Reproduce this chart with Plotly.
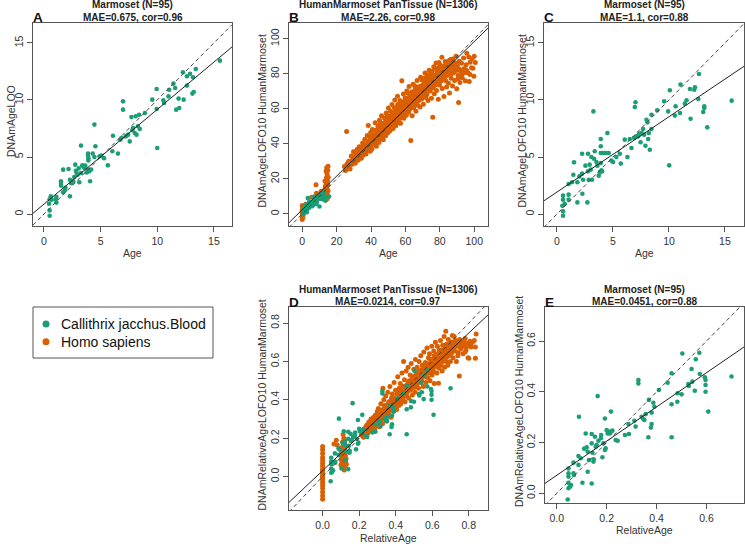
import plotly.graph_objects as go

W, H = 745, 544
GREEN = "#1B9E77"
ORANGE = "#D95F02"
FONT = "Liberation Sans, Arial, sans-serif"

# ---------------- data ----------------
# Panel A: Marmoset Age vs DNAmAgeLOO
marm_A = [
    (0.5, -0.15), (0.5, 0.32), (0.45, 0.9), (0.5, 1.3), (0.6, 1.55), (0.68, 1.26), (1.04, 1.3), (1.1, 1.0),
    (1.1, 1.5), (1.5, 2.87), (1.5, 2.66), (1.51, 2.49), (1.69, 1.9), (1.84, 2.08), (1.69, 3.89), (2.17, 3.95),
    (2.29, 1.55), (2.29, 3.0), (2.58, 2.87), (2.67, 3.25), (2.76, 4.33), (2.82, 3.8), (2.88, 3.6), (2.97, 3.45),
    (3.06, 4.0), (3.12, 2.78), (3.27, 6.0), (3.36, 4.24), (3.47, 4.24), (3.65, 4.24), (3.77, 3.65), (3.89, 5.12),
    (3.89, 5.3), (3.92, 4.9), (3.92, 4.7), (3.92, 3.9), (4.0, 3.74), (4.07, 2.87), (4.16, 3.9), (4.3, 5.3),
    (4.45, 7.84), (4.54, 5.94), (4.45, 5.0), (4.9, 5.06), (5.05, 5.12), (5.64, 4.27), (6.03, 5.5), (6.09, 6.87),
    (6.53, 5.3), (6.74, 6.52), (6.83, 6.67), (6.98, 9.88), (6.98, 9.15), (7.2, 6.8), (7.28, 6.87), (7.43, 6.96),
    (7.57, 6.37), (7.72, 8.5), (7.8, 7.34), (7.87, 7.54), (8.02, 7.1), (8.1, 8.57), (8.17, 6.96), (8.4, 8.71),
    (8.46, 7.46), (8.91, 8.86), (9.56, 10.03), (9.95, 10.96), (10.0, 5.79), (9.95, 9.21), (10.54, 9.97),
    (10.6, 9.74), (10.99, 10.32), (11.05, 10.9), (11.43, 11.43), (11.58, 11.05), (11.67, 9.15), (11.94, 9.3),
    (11.88, 10.12), (12.27, 12.43), (12.33, 10.03), (12.62, 12.08), (12.62, 11.26), (13.16, 11.99),
    (13.1, 10.56), (13.22, 10.7), (13.4, 12.72), (15.53, 13.45), (3.27, 3.6), (3.56, 4.03), (2.4, 2.7),
    (1.9, 2.3), (5.3, 4.9), (8.3, 7.7), (12.9, 12.3),
]
# Panel C (and green points of B): Marmoset Age vs DNAmAgeLOFO10 HumanMarmoset
marm_C = [
    (0.54, -0.15), (0.54, 0.23), (0.48, 0.73), (0.54, 1.26), (0.54, 1.61), (0.69, 0.9), (1.04, 1.26),
    (1.04, 1.7), (1.04, 2.63), (1.34, 2.78), (1.52, 4.53), (1.46, 3.45), (1.82, 1.02), (1.82, 2.78),
    (2.24, 5.29), (2.24, 3.54), (2.27, 1.78), (2.33, 3.01), (2.54, 4.24), (2.71, 1.02), (2.77, 5.29),
    (2.77, 3.74), (2.83, 3.01), (2.92, 4.33), (3.01, 3.89), (3.07, 5.0), (3.13, 3.01), (3.25, 9.0),
    (3.31, 4.85), (3.37, 5.5), (3.52, 4.56), (3.61, 4.24), (3.73, 3.36), (3.82, 3.65), (3.91, 5.35),
    (3.91, 5.94), (3.91, 6.58), (3.91, 4.47), (3.97, 3.83), (4.03, 3.74), (4.12, 5.35), (4.26, 5.35),
    (4.41, 5.35), (4.5, 7.1), (4.62, 5.35), (4.86, 4.68), (5.01, 4.56), (5.61, 5.29), (5.7, 4.42),
    (6.05, 6.52), (6.29, 5.0), (6.5, 6.58), (6.65, 5.79), (6.89, 6.67), (6.95, 9.39), (7.01, 9.8),
    (7.1, 6.81), (7.25, 6.81), (7.34, 7.05), (7.46, 6.29), (7.55, 7.1), (7.69, 7.46), (7.78, 6.96),
    (7.9, 5.99), (7.99, 8.27), (8.08, 8.04), (8.14, 6.58), (8.2, 7.1), (8.29, 5.64), (8.44, 8.71),
    (8.44, 7.46), (8.95, 9.09), (9.57, 9.88), (9.93, 9.0), (10.08, 10.85), (10.02, 4.27), (10.53, 8.63),
    (10.59, 9.44), (10.98, 8.86), (11.03, 11.35), (11.42, 9.68), (11.57, 9.97), (11.87, 10.96),
    (11.93, 8.36), (12.26, 10.9), (12.32, 11.11), (12.62, 10.09), (12.68, 12.28), (13.06, 8.95),
    (13.15, 9.44), (13.15, 9.3), (13.42, 7.6), (15.6, 9.94), (2.0, 3.3), (5.3, 5.0),
]
# Panel E (and green points of D): Marmoset RelativeAge vs DNAmRelativeAgeLOFO10 HumanMarmoset
marm_E = [
    (0.044, -0.024), (0.047, 0.098), (0.047, 0.079), (0.047, 0.066), (0.047, 0.042), (0.047, 0.02),
    (0.053, 0.026), (0.057, 0.033), (0.067, 0.121), (0.067, 0.079), (0.069, 0.072), (0.087, 0.112),
    (0.089, 0.302), (0.087, 0.147), (0.096, 0.138), (0.103, 0.042), (0.116, 0.236), (0.12, 0.181),
    (0.124, 0.085), (0.124, 0.164), (0.129, 0.131), (0.14, 0.197), (0.14, 0.039), (0.14, 0.234),
    (0.143, 0.16), (0.147, 0.125), (0.148, 0.134), (0.153, 0.223), (0.156, 0.184), (0.16, 0.19),
    (0.164, 0.383), (0.167, 0.207), (0.177, 0.217), (0.183, 0.142), (0.187, 0.197), (0.193, 0.295),
    (0.193, 0.171), (0.196, 0.177), (0.2, 0.249), (0.204, 0.236), (0.207, 0.243), (0.213, 0.236),
    (0.217, 0.322), (0.217, 0.243), (0.223, 0.247), (0.236, 0.21), (0.244, 0.207), (0.273, 0.23),
    (0.287, 0.273), (0.289, 0.234), (0.311, 0.286), (0.316, 0.263), (0.327, 0.446), (0.327, 0.433),
    (0.34, 0.302), (0.347, 0.293), (0.351, 0.289), (0.356, 0.312), (0.367, 0.221), (0.369, 0.368),
    (0.377, 0.259), (0.38, 0.273), (0.38, 0.318), (0.387, 0.357), (0.391, 0.341), (0.409, 0.407),
    (0.444, 0.436), (0.46, 0.473), (0.46, 0.351), (0.46, 0.221), (0.483, 0.361), (0.484, 0.394),
    (0.5, 0.39), (0.503, 0.551), (0.527, 0.431), (0.529, 0.423), (0.54, 0.49), (0.543, 0.44),
    (0.553, 0.404), (0.557, 0.528), (0.571, 0.554), (0.573, 0.47), (0.593, 0.457), (0.596, 0.446),
    (0.596, 0.427), (0.596, 0.4), (0.607, 0.322), (0.7, 0.46), (0.11, 0.176), (0.178, 0.23),
]
# Panel B: Homo sapiens Age vs DNAmAgeLOFO10 HumanMarmoset
human_B = [
    (0, -3.2), (0, -2.1), (0.1, -1.0), (0, 0.2), (0.2, 1.1), (0, 2.0), (0.3, 2.9), (0, 4.8), (0.5, -0.4),
    (0.2, 0.6), (0.1, 3.6), (0, 1.5), (0.4, -1.8), (0.3, 0.0), (1.5, 3.2), (2.0, 5.5), (8.0, 16.6),
    (8.3, 11.8), (5.5, 9.5), (7.4, 9.9), (11.0, 13.0),
    (12.6, 8.5), (12.8, 10.2), (13.0, 12.0), (13.1, 9.0), (13.3, 14.5), (13.4, 11.2), (13.5, 16.0),
    (13.6, 8.0), (13.7, 13.0), (13.8, 18.2), (13.9, 10.5), (14.0, 15.2), (14.0, 20.5), (14.1, 12.4),
    (14.2, 9.6), (14.3, 17.0), (14.4, 22.8), (14.5, 14.0), (14.6, 11.0), (14.7, 19.0), (14.8, 25.0),
    (14.9, 16.5), (15.0, 27.2), (15.0, 13.2), (15.1, 21.0), (14.5, 8.6), (13.2, 18.8), (14.8, 10.0),
    (13.9, 24.5), (14.2, 26.3),
    (24.5, 27.0), (25.2, 24.8), (25.8, 47.0), (26.0, 28.5), (26.5, 26.2), (27.0, 30.1), (27.3, 27.5),
    (27.8, 25.6), (28.2, 29.8), (28.5, 33.0), (29.0, 28.4), (29.4, 31.2), (29.8, 35.5), (30.1, 30.0),
    (30.5, 32.6), (30.8, 28.9), (31.2, 34.1), (31.6, 31.5), (31.9, 36.8), (32.2, 33.2), (32.5, 30.6),
    (32.8, 35.0), (33.1, 38.4), (33.4, 32.1), (33.8, 34.6), (34.1, 37.2), (34.4, 31.8), (34.8, 36.0),
    (35.1, 40.5), (35.5, 33.6), (35.8, 38.0), (36.1, 35.4), (36.4, 42.6), (36.8, 37.9), (37.1, 34.2),
    (37.5, 40.0), (37.8, 44.8), (38.1, 36.6), (38.4, 50.5), (38.8, 39.2), (39.1, 42.0), (39.5, 35.8),
    (39.8, 46.5), (39.9, 38.4), (40.2, 41.5), (40.5, 37.0), (40.8, 48.2), (41.1, 43.6), (41.4, 39.8),
    (41.8, 45.2), (42.1, 41.0), (42.4, 52.0), (42.8, 44.4), (43.1, 38.6), (43.4, 47.0), (43.8, 42.6),
    (44.0, 50.2), (44.3, 45.8), (44.6, 40.8), (44.9, 53.5), (45.2, 47.6), (45.5, 43.0), (45.8, 49.8),
    (46.1, 56.0), (46.4, 45.0), (46.8, 51.6), (47.1, 42.4), (47.4, 48.4), (47.8, 54.8), (47.9, 46.2),
    (48.2, 50.5), (48.5, 44.6), (48.8, 57.6), (49.1, 48.0), (49.4, 53.2), (49.8, 46.4), (50.1, 60.5),
    (50.4, 51.4), (50.7, 55.8), (51.0, 47.5), (51.3, 58.6), (51.6, 50.0), (51.9, 53.4), (52.2, 62.4),
    (52.5, 55.0), (52.8, 48.8), (53.1, 57.8), (53.4, 52.2), (53.8, 65.0), (54.1, 56.2), (54.4, 50.4),
    (54.8, 60.2), (55.1, 54.0), (55.4, 67.2), (55.8, 58.4), (55.9, 52.0), (56.2, 61.6), (56.5, 55.6),
    (56.8, 64.8), (57.1, 51.8), (57.4, 59.0), (57.9, 76.0), (58.1, 62.8), (58.4, 57.2), (58.8, 68.4),
    (59.1, 54.6), (59.4, 61.0), (59.8, 66.2), (59.9, 58.6), (60.2, 63.6), (60.5, 56.4), (60.8, 70.2),
    (61.1, 60.2), (61.4, 66.0), (61.8, 58.0), (62.1, 72.8), (62.4, 63.0), (62.8, 67.6), (63.1, 41.9),
    (63.4, 61.4), (63.8, 69.8), (63.9, 56.0), (64.2, 65.2), (64.5, 74.0), (64.8, 60.6), (65.1, 68.6),
    (65.4, 63.2), (65.8, 71.4), (66.1, 58.6), (66.4, 66.4), (66.8, 76.2), (67.1, 62.0), (67.4, 69.4),
    (67.8, 64.8), (67.9, 72.6), (68.2, 67.2), (68.5, 61.0), (68.8, 78.0), (69.1, 70.8), (69.4, 65.6),
    (69.8, 73.4), (70.1, 68.4), (70.4, 62.6), (70.8, 75.6), (71.1, 70.0), (71.4, 80.4), (71.8, 66.4),
    (71.9, 72.2), (72.2, 74.6), (72.5, 68.2), (72.8, 78.6), (73.1, 64.8), (73.4, 71.6), (73.8, 82.0),
    (74.1, 76.4), (74.4, 70.2), (74.8, 80.0), (75.1, 66.0), (75.4, 73.8), (75.9, 55.2), (75.9, 77.6),
    (76.2, 72.0), (76.5, 84.0), (76.8, 68.6), (77.1, 79.2), (77.4, 75.0), (77.8, 86.2), (78.1, 70.4),
    (78.4, 81.6), (78.8, 76.8), (79.1, 65.4), (79.4, 83.4), (79.8, 73.6), (79.9, 79.8), (80.2, 85.0),
    (80.5, 75.8), (80.8, 81.0), (81.2, 89.5), (81.4, 71.6), (81.8, 78.4), (82.1, 84.2), (82.4, 67.0),
    (82.8, 80.2), (83.1, 87.0), (83.4, 76.0), (83.8, 82.6), (83.9, 72.4), (84.2, 79.0), (84.6, 85.6),
    (85.0, 74.6), (85.6, 69.0), (85.8, 82.0), (86.2, 88.2), (86.6, 77.4), (87.0, 83.8), (87.4, 73.0),
    (87.8, 80.6), (88.2, 86.4), (88.6, 76.2), (89.0, 82.8), (89.4, 90.0), (89.8, 71.4), (90.2, 84.6),
    (90.6, 79.0), (90.9, 63.6), (91.3, 87.2), (91.7, 75.0), (92.2, 81.4), (92.6, 86.0), (93.0, 77.8),
    (93.8, 89.0), (94.2, 83.0), (94.8, 76.0), (95.3, 85.2), (95.7, 91.8), (96.4, 80.6), (97.1, 75.6),
    (97.6, 86.6), (98.4, 83.4), (99.2, 83.2), (100.0, 90.0), (100.6, 86.5), (99.8, 78.6),
    (30.0, 31.8), (31.0, 30.4), (32.0, 32.6), (33.0, 34.0), (34.0, 33.8), (35.0, 35.4), (36.0, 37.6),
    (37.0, 38.4), (38.0, 39.0), (39.0, 40.2), (40.0, 40.0), (41.0, 42.2), (42.0, 43.2), (43.0, 43.0),
    (44.0, 45.0), (45.0, 46.2), (46.0, 47.4), (47.0, 46.6), (48.0, 49.0), (49.0, 50.6), (50.0, 49.6),
    (51.0, 52.2), (52.0, 51.6), (53.0, 54.6), (54.0, 53.4), (55.0, 56.6), (56.0, 57.8), (57.0, 56.8),
    (58.0, 59.6), (59.0, 60.2), (60.0, 61.4), (61.0, 62.8), (62.0, 61.0), (63.0, 64.6), (64.0, 63.0),
    (65.0, 66.2), (66.0, 67.6), (67.0, 66.8), (68.0, 69.4), (69.0, 68.2), (70.0, 71.2), (71.0, 73.0),
    (72.0, 70.8), (73.0, 72.6), (74.0, 74.0), (75.0, 76.4), (76.0, 75.2), (77.0, 77.0), (78.0, 78.6),
    (79.0, 77.8), (80.0, 79.6), (81.0, 80.6), (82.0, 79.0), (83.0, 82.0), (84.0, 81.2), (85.0, 83.4),
    (86.0, 82.6), (87.0, 85.0), (44.5, 49.0), (46.5, 51.0), (48.5, 53.0), (50.5, 54.5), (52.5, 57.0),
    (54.5, 58.6), (56.5, 59.8), (58.5, 63.8), (60.5, 65.6), (62.5, 67.0), (64.5, 68.6), (66.5, 70.2),
    (68.5, 72.6), (70.5, 73.0), (72.5, 76.2), (74.5, 77.4), (76.5, 78.8), (78.5, 80.0), (45.5, 44.0),
    (49.5, 47.6), (53.5, 51.0), (57.5, 55.0), (61.5, 59.0), (65.5, 62.6), (69.5, 66.6), (73.5, 70.4),
    (77.5, 73.6), (81.5, 76.8),
    (33.5, 36.4), (35.5, 39.6), (37.5, 36.2), (39.5, 44.0), (41.5, 41.2), (43.5, 45.4), (45.5, 52.0),
    (47.5, 50.2), (49.5, 56.0), (51.5, 55.2), (53.5, 60.6), (55.5, 62.4), (57.5, 64.0), (59.5, 63.4),
    (61.5, 69.0), (63.5, 66.4), (65.5, 73.0), (67.5, 70.6), (69.5, 76.6), (71.5, 77.8), (73.5, 79.4),
    (75.5, 81.4), (77.5, 83.0), (79.5, 86.4), (81.5, 83.6), (83.5, 85.4), (85.5, 87.6), (87.5, 88.4),
    (89.5, 86.0), (91.5, 82.6), (93.5, 80.4), (95.5, 82.0), (97.5, 79.6), (98.8, 88.6), (96.8, 89.6),
    (42.5, 39.8), (46.5, 43.6), (50.5, 48.0), (54.5, 52.4), (58.5, 55.8), (62.5, 59.8), (66.5, 63.4),
    (70.5, 67.0), (74.5, 71.0), (78.5, 74.2), (82.5, 77.2), (86.5, 79.8), (88.5, 81.0), (90.5, 77.2),
    (92.5, 79.0), (94.5, 80.6), (36.5, 36.0), (38.5, 41.4), (40.5, 42.8), (42.5, 47.8), (44.5, 46.6),
    (46.5, 48.2), (48.5, 47.4), (50.5, 51.6), (52.5, 53.0), (54.5, 55.8), (56.5, 54.4), (58.5, 60.8),
    (60.5, 59.6), (62.5, 64.2), (64.5, 62.2), (66.5, 65.0), (68.5, 67.8), (70.5, 69.6), (72.5, 72.6),
    (74.5, 73.2), (76.5, 75.6), (78.5, 77.0), (80.5, 78.0), (82.5, 82.8), (84.5, 83.2), (86.5, 85.0),
    (88.5, 84.2), (90.5, 82.0), (27.5, 29.0), (29.5, 30.0), (31.5, 33.0), (33.5, 35.2), (35.5, 37.0),
]
# Panel D: Homo sapiens RelativeAge vs DNAmRelativeAgeLOFO10 HumanMarmoset
human_D = [
    (0.0, -0.118), (0.0, -0.10), (0.0, -0.08), (0.0, -0.06), (0.0, -0.045), (0.0, -0.03), (0.0, -0.015),
    (0.0, 0.0), (0.0, 0.012), (0.0, 0.025), (0.0, 0.04), (0.0, 0.055), (0.0, 0.07), (0.0, 0.085),
    (0.0, 0.10), (0.0, 0.12), (0.0, 0.14), (0.0, 0.157), (0.0, -0.005), (0.0, 0.03),
    (0.062, 0.17), (0.075, 0.19), (0.08, 0.165),
    (0.100, 0.06), (0.102, 0.09), (0.104, 0.12), (0.105, 0.15), (0.106, 0.075), (0.108, 0.105),
    (0.109, 0.18), (0.110, 0.135), (0.111, 0.045), (0.112, 0.095), (0.113, 0.16), (0.114, 0.115),
    (0.115, 0.07), (0.116, 0.20), (0.117, 0.14), (0.118, 0.085), (0.119, 0.125), (0.120, 0.17),
    (0.121, 0.10), (0.122, 0.055), (0.123, 0.15), (0.124, 0.11), (0.125, 0.08), (0.126, 0.13),
    (0.128, 0.095), (0.130, 0.065), (0.112, 0.22), (0.118, 0.035), (0.107, 0.145), (0.122, 0.19),
    (0.212, 0.215), (0.218, 0.235), (0.224, 0.205), (0.228, 0.25), (0.232, 0.228), (0.236, 0.212),
    (0.238, 0.262), (0.241, 0.24), (0.244, 0.27), (0.247, 0.226), (0.25, 0.255), (0.253, 0.285),
    (0.256, 0.238), (0.259, 0.262), (0.262, 0.25), (0.265, 0.30), (0.268, 0.272), (0.271, 0.236),
    (0.274, 0.288), (0.277, 0.26), (0.279, 0.31), (0.282, 0.275), (0.285, 0.25), (0.288, 0.32),
    (0.291, 0.29), (0.294, 0.265), (0.297, 0.305), (0.299, 0.34), (0.302, 0.28), (0.305, 0.355),
    (0.308, 0.30), (0.311, 0.26), (0.314, 0.325), (0.317, 0.29), (0.319, 0.38), (0.322, 0.31),
    (0.325, 0.345), (0.328, 0.275), (0.33, 0.46), (0.332, 0.33), (0.335, 0.40), (0.338, 0.30),
    (0.339, 0.36), (0.342, 0.325), (0.345, 0.42), (0.348, 0.35), (0.351, 0.29), (0.354, 0.375),
    (0.357, 0.44), (0.359, 0.33), (0.362, 0.39), (0.365, 0.345), (0.368, 0.47), (0.371, 0.37),
    (0.374, 0.31), (0.377, 0.41), (0.379, 0.355), (0.382, 0.43), (0.385, 0.38), (0.388, 0.34),
    (0.391, 0.49), (0.394, 0.40), (0.397, 0.365), (0.399, 0.45), (0.402, 0.39), (0.405, 0.35),
    (0.408, 0.43), (0.411, 0.52), (0.414, 0.405), (0.417, 0.37), (0.419, 0.46), (0.422, 0.415),
    (0.425, 0.485), (0.428, 0.38), (0.431, 0.445), (0.434, 0.54), (0.437, 0.40), (0.439, 0.47),
    (0.443, 0.60), (0.445, 0.43), (0.448, 0.505), (0.451, 0.39), (0.454, 0.46), (0.457, 0.55),
    (0.459, 0.42), (0.462, 0.48), (0.465, 0.445), (0.468, 0.57), (0.471, 0.41), (0.474, 0.50),
    (0.477, 0.465), (0.479, 0.53), (0.482, 0.455), (0.485, 0.59), (0.488, 0.49), (0.491, 0.425),
    (0.494, 0.52), (0.497, 0.47), (0.499, 0.56), (0.502, 0.50), (0.505, 0.44), (0.508, 0.61),
    (0.511, 0.53), (0.514, 0.475), (0.517, 0.57), (0.519, 0.51), (0.522, 0.545), (0.525, 0.46),
    (0.528, 0.60), (0.531, 0.52), (0.534, 0.49), (0.537, 0.63), (0.539, 0.555), (0.542, 0.50),
    (0.545, 0.58), (0.548, 0.535), (0.551, 0.47), (0.554, 0.65), (0.557, 0.56), (0.559, 0.52),
    (0.562, 0.595), (0.565, 0.49), (0.568, 0.54), (0.571, 0.67), (0.574, 0.575), (0.577, 0.515),
    (0.579, 0.62), (0.582, 0.55), (0.585, 0.64), (0.588, 0.50), (0.591, 0.595), (0.594, 0.565),
    (0.597, 0.68), (0.599, 0.53), (0.602, 0.61), (0.605, 0.555), (0.608, 0.655), (0.611, 0.485),
    (0.614, 0.59), (0.617, 0.70), (0.619, 0.575), (0.622, 0.635), (0.625, 0.54), (0.628, 0.68),
    (0.631, 0.60), (0.634, 0.487), (0.637, 0.565), (0.639, 0.66), (0.642, 0.62), (0.645, 0.71),
    (0.648, 0.58), (0.651, 0.64), (0.654, 0.55), (0.657, 0.685), (0.659, 0.60), (0.662, 0.655),
    (0.665, 0.73), (0.668, 0.57), (0.671, 0.625), (0.674, 0.757), (0.677, 0.69), (0.679, 0.60),
    (0.682, 0.665), (0.685, 0.58), (0.688, 0.715), (0.691, 0.63), (0.695, 0.685), (0.699, 0.60),
    (0.702, 0.70), (0.706, 0.645), (0.71, 0.735), (0.714, 0.62), (0.718, 0.68), (0.72, 0.73),
    (0.724, 0.655), (0.728, 0.71), (0.732, 0.60), (0.738, 0.69), (0.742, 0.645), (0.748, 0.525),
    (0.75, 0.715), (0.755, 0.665), (0.762, 0.70), (0.768, 0.64), (0.774, 0.68), (0.78, 0.72),
    (0.785, 0.66), (0.79, 0.695), (0.796, 0.62), (0.80, 0.617), (0.806, 0.705), (0.812, 0.675),
    (0.82, 0.70), (0.83, 0.71), (0.836, 0.617), (0.84, 0.743), (0.836, 0.675),
    (0.25, 0.255), (0.27, 0.275), (0.29, 0.29), (0.31, 0.31), (0.33, 0.33), (0.35, 0.345), (0.37, 0.365),
    (0.39, 0.385), (0.41, 0.40), (0.43, 0.42), (0.45, 0.44), (0.47, 0.455), (0.49, 0.475), (0.51, 0.49),
    (0.53, 0.51), (0.55, 0.525), (0.57, 0.545), (0.59, 0.56), (0.61, 0.58), (0.63, 0.595), (0.65, 0.615),
    (0.67, 0.63), (0.69, 0.65), (0.30, 0.32), (0.34, 0.37), (0.38, 0.405), (0.42, 0.44), (0.46, 0.47),
    (0.50, 0.51), (0.54, 0.55), (0.58, 0.585), (0.62, 0.62), (0.66, 0.645), (0.70, 0.675), (0.74, 0.68),
    (0.32, 0.295), (0.36, 0.335), (0.40, 0.37), (0.44, 0.41), (0.48, 0.45), (0.52, 0.49), (0.56, 0.53),
    (0.60, 0.54), (0.64, 0.585), (0.68, 0.625),
    (0.27, 0.29), (0.29, 0.31), (0.31, 0.29), (0.33, 0.35), (0.35, 0.37), (0.37, 0.39), (0.39, 0.41),
    (0.41, 0.43), (0.43, 0.45), (0.45, 0.47), (0.47, 0.49), (0.49, 0.51), (0.51, 0.53), (0.53, 0.55),
    (0.55, 0.57), (0.57, 0.59), (0.59, 0.61), (0.61, 0.63), (0.63, 0.64), (0.65, 0.66), (0.67, 0.67),
    (0.69, 0.69), (0.71, 0.70), (0.73, 0.70), (0.75, 0.69), (0.77, 0.70), (0.79, 0.68), (0.81, 0.69),
    (0.34, 0.31), (0.38, 0.35), (0.42, 0.39), (0.46, 0.43), (0.50, 0.465), (0.54, 0.51), (0.58, 0.54),
    (0.62, 0.575), (0.66, 0.61), (0.70, 0.64), (0.74, 0.63), (0.78, 0.65),
    (0.26, 0.265), (0.28, 0.28), (0.30, 0.30), (0.32, 0.32), (0.34, 0.34), (0.36, 0.355), (0.38, 0.37),
    (0.40, 0.395), (0.42, 0.41), (0.44, 0.43), (0.46, 0.45), (0.48, 0.47), (0.50, 0.49), (0.52, 0.505),
    (0.54, 0.525), (0.56, 0.55), (0.58, 0.565), (0.60, 0.58), (0.62, 0.60), (0.64, 0.61), (0.66, 0.625),
    (0.68, 0.645), (0.70, 0.66), (0.72, 0.67), (0.76, 0.675),
]

# fitted regression lines (intercept, slope)
fit_A = (0.87, 0.83)
fit_B = (2.4, 0.96)
fit_C = (1.93, 0.66)
fit_D = (0.031, 0.897)
fit_E = (0.071, 0.674)

panel_titles = {
    "A": ("Marmoset (N=95)", "MAE=0.675, cor=0.96"),
    "B": ("HumanMarmoset PanTissue (N=1306)", "MAE=2.26, cor=0.98"),
    "C": ("Marmoset (N=95)", "MAE=1.1, cor=0.88"),
    "D": ("HumanMarmoset PanTissue (N=1306)", "MAE=0.0214, cor=0.97"),
    "E": ("Marmoset (N=95)", "MAE=0.0451, cor=0.88"),
}
x_labels = {"A": "Age", "B": "Age", "C": "Age", "D": "RelativeAge", "E": "RelativeAge"}
y_labels = {
    "A": "DNAmAgeLOO",
    "B": "DNAmAgeLOFO10 HumanMarmoset",
    "C": "DNAmAgeLOFO10 HumanMarmoset",
    "D": "DNAmRelativeAgeLOFO10 HumanMarmoset",
    "E": "DNAmRelativeAgeLOFO10 HumanMarmoset",
}
age_ticks = [0, 5, 10, 15]
age_ticks_b = [0, 20, 40, 60, 80, 100]
rel_ticks_d = [0.0, 0.2, 0.4, 0.6, 0.8]
rel_ticks_e = [0.0, 0.2, 0.4, 0.6]
legend_names = ["Callithrix jacchus.Blood", "Homo sapiens"]

# ---------------- layout geometry (pixels) ----------------
boxes = {  # left, right, top, bottom
    "A": (33, 232, 23, 226),
    "B": (289, 488, 23, 226),
    "C": (544, 744, 23, 226),
    "D": (289, 488, 307, 510),
    "E": (545, 744, 307, 503),
}
ranges = {
    "A": ((-0.97, 16.6), (-1.05, 16.75)),
    "B": ((-7.7, 108), (-6.9, 109)),
    "C": ((-1.16, 16.7), (-1.05, 16.75)),
    "D": ((-0.184, 0.905), (-0.174, 0.884)),
    "E": ((-0.047, 0.75), (-0.038, 0.734)),
}
ticks = {
    "A": (age_ticks, age_ticks),
    "B": (age_ticks_b, age_ticks_b),
    "C": (age_ticks, age_ticks),
    "D": (rel_ticks_d, rel_ticks_d),
    "E": (rel_ticks_e, rel_ticks_e),
}
ylab_x = {"A": 10.5, "B": 261, "C": 521, "D": 261, "E": 519}
xlab_off = {"A": 27, "B": 27, "C": 27, "D": 28, "E": 27}


def fx(p):
    return p / W


def fy(p):
    return 1 - p / H


def unzip(pairs):
    return [p[0] for p in pairs], [p[1] for p in pairs]


fig = go.Figure()
layout = dict(
    width=W, height=H, margin=dict(l=0, r=0, t=0, b=0),
    paper_bgcolor="white", plot_bgcolor="white",
    font=dict(family=FONT, color="#222"),
    showlegend=False,
)
annotations = []
shapes = []

panel_data = {
    "A": [(marm_A, GREEN, 4.6)],
    "B": [(human_B, ORANGE, 5.0), (marm_C, GREEN, 4.6)],
    "C": [(marm_C, GREEN, 4.6)],
    "D": [(human_D, ORANGE, 5.0), (marm_E, GREEN, 4.6)],
    "E": [(marm_E, GREEN, 4.6)],
}
fits = {"A": fit_A, "B": fit_B, "C": fit_C, "D": fit_D, "E": fit_E}

for i, key in enumerate(["A", "B", "C", "D", "E"]):
    n = i + 1
    xa = "x" if n == 1 else f"x{n}"
    ya = "y" if n == 1 else f"y{n}"
    l, r, t, b = boxes[key]
    (x0, x1), (y0, y1) = ranges[key]
    xt, yt = ticks[key]
    fmt = ".1f" if key in ("D", "E") else ""
    axis_common = dict(
        showline=True, mirror=True, linecolor="#555", linewidth=1,
        ticks="outside", ticklen=5, tickcolor="#555", tickwidth=1,
        showgrid=False, zeroline=False, tickfont=dict(size=10.5, color="#333", family=FONT),
        fixedrange=True,
    )
    layout["xaxis" if n == 1 else f"xaxis{n}"] = dict(
        domain=[fx(l), fx(r)], range=[x0, x1], anchor=ya, tickvals=xt, tickformat=fmt, **axis_common
    )
    layout["yaxis" if n == 1 else f"yaxis{n}"] = dict(
        domain=[fy(b), fy(t)], range=[y0, y1], anchor=xa, tickvals=yt, tickformat=fmt,
        tickangle=-90, **axis_common
    )
    for pairs, col, msize in panel_data[key]:
        xs, ys = unzip(pairs)
        fig.add_trace(go.Scatter(
            x=xs, y=ys, mode="markers", xaxis=xa, yaxis=ya, showlegend=False,
            marker=dict(color=col, size=msize, line=dict(width=0)), hoverinfo="skip",
        ))
    # identity (dashed) line and fitted (solid) line
    fig.add_trace(go.Scatter(
        x=[x0, x1], y=[x0, x1], mode="lines", xaxis=xa, yaxis=ya, showlegend=False,
        line=dict(color="#444", width=1, dash="4px,3px"), hoverinfo="skip",
    ))
    a, s = fits[key]
    fig.add_trace(go.Scatter(
        x=[x0, x1], y=[a + s * x0, a + s * x1], mode="lines", xaxis=xa, yaxis=ya, showlegend=False,
        line=dict(color="#222", width=1), hoverinfo="skip",
    ))
    cx = (l + r) / 2
    t1, t2 = panel_titles[key]
    annotations.append(dict(text=f"<b>{t1}</b>", x=fx(cx), y=fy(t - 18), xref="paper", yref="paper",
                            showarrow=False, font=dict(size=10, color="#222"), xanchor="center", yanchor="middle"))
    annotations.append(dict(text=f"<b>{t2}</b>", x=fx(cx), y=fy(t - 6), xref="paper", yref="paper",
                            showarrow=False, font=dict(size=10, color="#222"), xanchor="center", yanchor="middle"))
    annotations.append(dict(text=f"<b>{key}</b>", x=fx(l - 2), y=fy(t - 5), xref="paper", yref="paper",
                            showarrow=False, font=dict(size=13.5, color="#111"), xanchor="left", yanchor="middle"))
    annotations.append(dict(text=x_labels[key], x=fx(cx), y=fy(b + xlab_off[key]), xref="paper", yref="paper",
                            showarrow=False, font=dict(size=10.5, color="#333"), xanchor="center", yanchor="middle"))
    annotations.append(dict(text=y_labels[key], x=fx(ylab_x[key]), y=fy((t + b) / 2 - 3), xref="paper",
                            yref="paper", showarrow=False, textangle=-90,
                            font=dict(size=10.5, color="#333"), xanchor="center", yanchor="middle"))

# legend drawn as a box with coloured symbols and labels
shapes.append(dict(type="rect", xref="paper", yref="paper", x0=fx(33), x1=fx(213), y0=fy(358), y1=fy(307),
                   line=dict(color="#555", width=1), fillcolor="rgba(0,0,0,0)"))
for j, (name, col) in enumerate(zip(legend_names, [GREEN, ORANGE])):
    cy = 324 + 17.7 * j
    shapes.append(dict(type="circle", xref="paper", yref="paper", x0=fx(42.5), x1=fx(49.5),
                       y0=fy(cy + 3.5), y1=fy(cy - 3.5), fillcolor=col, line=dict(width=0)))
    annotations.append(dict(text=name, x=fx(59), y=fy(cy), xref="paper", yref="paper", showarrow=False,
                            xanchor="left", yanchor="middle", font=dict(size=14, color="#111")))

layout["annotations"] = annotations
layout["shapes"] = shapes
fig.update_layout(**layout)
fig.write_html("out.html", post_script="document.body.style.margin='0px';",
               config={"displayModeBar": False})
